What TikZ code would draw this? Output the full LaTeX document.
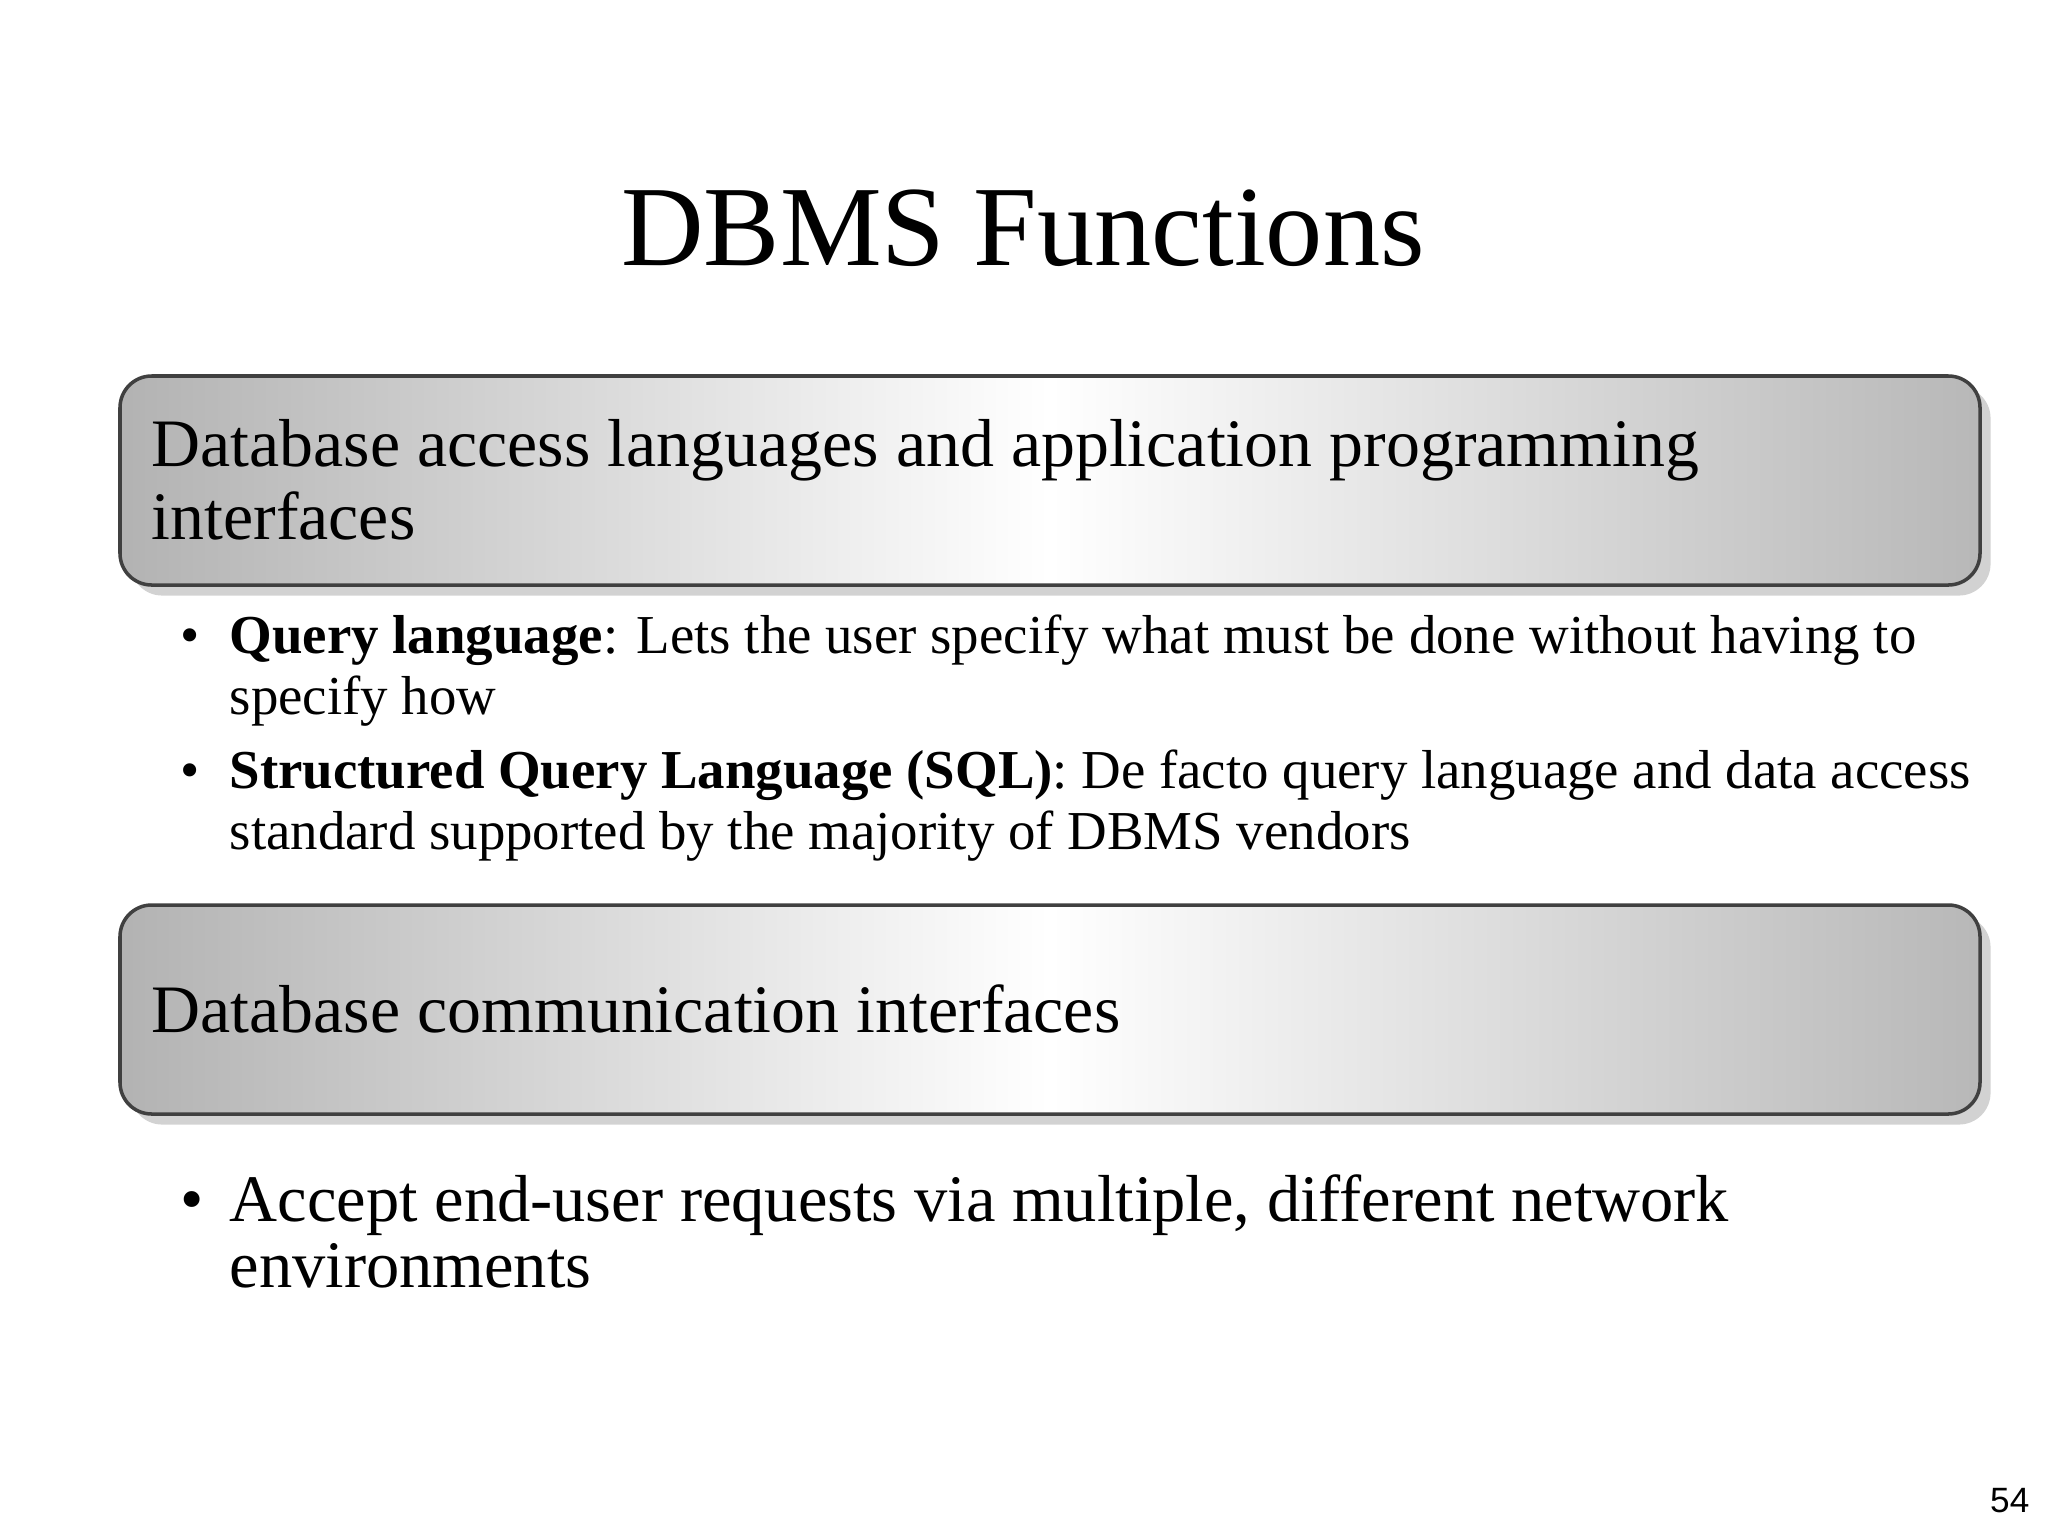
\documentclass[tikz,border=0pt]{standalone}
\usepackage{fontspec}
\setmainfont{Liberation Serif}
\setsansfont{Liberation Sans}
\usetikzlibrary{shadows}
\tikzset{
  nohy/.style={execute at begin node={\hyphenpenalty=10000\relax}},
  hbox/.style={draw=black!75, line width=1pt, rounded corners=9pt,
    left color=black!30, right color=black!28, middle color=white,
    drop shadow={shadow xshift=3pt, shadow yshift=-3pt, opacity=0.35}},
  btxt/.style={anchor=base west, inner sep=0pt, text width=17.4cm, align=flush left, nohy,
    font=\fontsize{15.6pt}{17.4pt}\selectfont},
  bul/.style={anchor=base west, inner sep=0pt, font=\fontsize{15.6pt}{17.4pt}\selectfont}
}
\begin{document}
\begin{tikzpicture}[x=0.01cm,y=-0.01cm]
\useasboundingbox[fill=white] (0,0) rectangle (2048,1536);
\node[inner sep=0pt, anchor=base, font=\fontsize{32.5pt}{36pt}\selectfont] (title) at (1023,265) {DBMS Functions};
\draw[hbox] (120,376) rectangle (1980,585);
\node[anchor=base west, inner sep=0pt, text width=17.5cm, align=flush left, nohy,
  font=\fontsize{19.3pt}{20.8pt}\selectfont] (h1) at (151,466)
  {Database access languages and application programming interfaces};
\node[bul] (b1) at (180,653) {•};
\node[btxt] (t1) at (229,653) {\textbf{Query language}: Lets the user specify what must be done without having to specify how};
\node[bul] (b2) at (180,788) {•};
\node[btxt] (t2) at (229,788) {\textbf{Structured Query Language (SQL)}: De facto query language and data access standard supported by the majority of DBMS vendors};
\draw[hbox] (120,905) rectangle (1980,1114);
\node[anchor=base west, inner sep=0pt, font=\fontsize{19.3pt}{20.8pt}\selectfont] (h2) at (151,1032) {Database communication interfaces};
\node[anchor=base west, inner sep=0pt, font=\fontsize{18.9pt}{22pt}\selectfont] (b3) at (180,1221) {•};
\node[anchor=base west, inner sep=0pt, text width=15.4cm, align=flush left, nohy,
  font=\fontsize{18.9pt}{18.8pt}\selectfont] (t3) at (229,1221)
  {Accept end-user requests via multiple, different network environments};
\node[anchor=base east, inner sep=0pt, font=\sffamily\fontsize{10pt}{12pt}\selectfont] (pg) at (2030,1512) {54};
\end{tikzpicture}
\end{document}
